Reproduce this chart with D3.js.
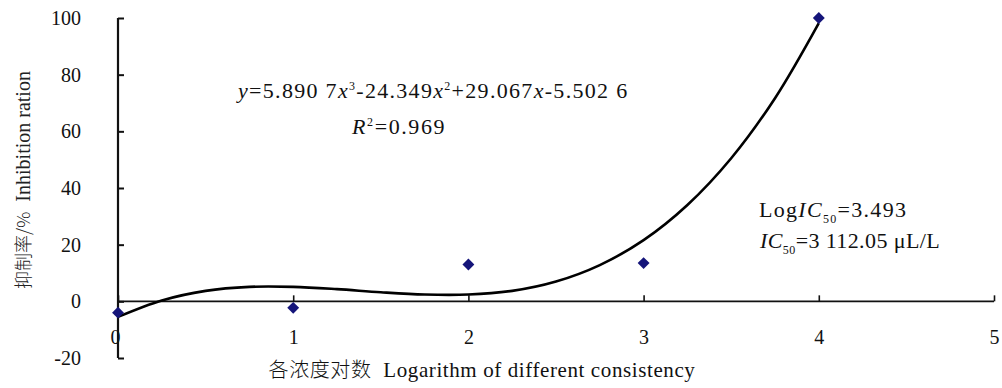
<!DOCTYPE html>
<html>
<head>
<meta charset="utf-8">
<script src="https://cdn.jsdelivr.net/npm/d3@7"></script>
<style>
  body { margin: 0; background: #fff; }
  .serif { font-family: "Liberation Serif", "DejaVu Serif", serif; }
  .cjk { font-family: "Noto Sans CJK SC", sans-serif; }
</style>
</head>
<body>
<svg id="chart" width="1002" height="388" font-family="Liberation Serif"></svg>
<script>
// measured points
const logConc = [0, 1, 2, 3, 4];
const inhibition = [-4, -2.3, 13, 13.5, 100];

// fitted trend line
const trendX = [0, 0.25, 0.5, 0.75, 1, 1.25, 1.5, 1.75, 2, 2.25, 2.5, 2.75, 3, 3.25, 3.5, 3.75, 4];
const trendY = [-5.5, 0.3, 3.7, 5.1, 5.1, 4.3, 3.2, 2.4, 2.4, 3.7, 7.0, 12.8, 21.6, 34.0, 50.5, 71.7, 98.2];

const xTicks = [0, 1, 2, 3, 4, 5];
const yTicks = [-20, 0, 20, 40, 60, 80, 100];

const svg = d3.select('#chart');

const x = d3.scaleLinear().domain([0, 5]).range([118, 994]);
const y = d3.scaleLinear().domain([-20, 100]).range([358, 18]);

// y axis, ticks pointing inward
const yAxis = svg.append('g')
  .attr('transform', 'translate(' + x(0) + ',0)')
  .call(d3.axisLeft(y).tickValues(yTicks).tickSize(-6).tickPadding(37).tickFormat(d => String(d)));
yAxis.attr('font-family', 'Liberation Serif');
yAxis.select('.domain').attr('stroke', '#111').attr('stroke-width', 2.2).attr('d', 'M0,' + y(-20) + 'V' + y(100));
yAxis.selectAll('.tick line').attr('stroke', '#111').attr('stroke-width', 2);
yAxis.selectAll('.tick text').attr('class', 'serif').attr('font-size', 20).attr('fill', '#111');

// x axis along y = 0, ticks pointing up
const xAxis = svg.append('g')
  .attr('transform', 'translate(0,' + y(0) + ')')
  .call(d3.axisBottom(x).tickValues(xTicks).tickSize(-6).tickPadding(28).tickFormat(d => String(d)));
xAxis.attr('font-family', 'Liberation Serif');
xAxis.select('.domain').attr('stroke', '#111').attr('stroke-width', 1.6).attr('d', 'M' + x(0) + ',0H' + x(5));
xAxis.selectAll('.tick line').attr('stroke', '#111').attr('stroke-width', 1.6);
xAxis.selectAll('.tick text').attr('class', 'serif').attr('font-size', 20).attr('fill', '#111');
xAxis.selectAll('.tick').filter(d => d === 0).select('text').attr('dx', -3);

// trend line
const line = d3.line()
  .x((d, i) => x(trendX[i]))
  .y(d => y(d))
  .curve(d3.curveCatmullRom);
svg.append('path')
  .datum(trendY)
  .attr('d', line)
  .attr('fill', 'none')
  .attr('stroke', '#000')
  .attr('stroke-width', 2.6);

// markers
svg.append('g').selectAll('path')
  .data(inhibition)
  .join('path')
  .attr('transform', (d, i) => 'translate(' + x(logConc[i]) + ',' + y(d) + ')')
  .attr('d', d3.symbol(d3.symbolDiamond2, 90))
  .attr('fill', '#15157a');

function txt(xp, yp, size, spacing) {
  return svg.append('text')
    .attr('class', 'serif')
    .attr('x', xp).attr('y', yp)
    .attr('font-size', size)
    .attr('letter-spacing', spacing || 0)
    .attr('fill', '#111');
}

// axis titles
const yTitle = svg.append('text')
  .attr('class', 'serif')
  .attr('transform', 'translate(30,180) rotate(-90)')
  .attr('text-anchor', 'middle')
  .attr('font-size', 20)
  .attr('fill', '#222');
yTitle.append('tspan').attr('class', 'cjk').attr('font-size', 18).attr('font-weight', 300).text('抑制率/%');
yTitle.append('tspan').text('\u00a0 Inhibition ration');

const xTitle = txt(482, 377, 21, 0.6).attr('text-anchor', 'middle');
xTitle.append('tspan').attr('class', 'cjk').attr('font-size', 20).attr('font-weight', 300).text('各浓度对数');
xTitle.append('tspan').text('\u00a0 Logarithm of different consistency');

// equation
const eq = txt(238, 98, 22, 1.3);
eq.append('tspan').attr('font-style', 'italic').text('y');
eq.append('tspan').text('=5.890 7');
eq.append('tspan').attr('font-style', 'italic').text('x');
eq.append('tspan').attr('font-size', 12).attr('dy', -8).text('3');
eq.append('tspan').attr('dy', 8).text('-24.349');
eq.append('tspan').attr('font-style', 'italic').text('x');
eq.append('tspan').attr('font-size', 12).attr('dy', -8).text('2');
eq.append('tspan').attr('dy', 8).text('+29.067');
eq.append('tspan').attr('font-style', 'italic').text('x');
eq.append('tspan').text('-5.502 6');

const r2 = txt(352, 134, 22, 1.6);
r2.append('tspan').attr('font-style', 'italic').text('R');
r2.append('tspan').attr('font-size', 12).attr('dy', -8).text('2');
r2.append('tspan').attr('dy', 8).text('=0.969');

// IC50 notes
const ic1 = txt(759, 217, 22, 1.3);
ic1.append('tspan').text('Log');
ic1.append('tspan').attr('font-style', 'italic').text('IC');
ic1.append('tspan').attr('font-size', 12).attr('dy', 6).text('50');
ic1.append('tspan').attr('dy', -6).text('=3.493');

const ic2 = txt(760, 248, 22, 0.4);
ic2.append('tspan').attr('font-style', 'italic').text('IC');
ic2.append('tspan').attr('font-size', 12).attr('dy', 6).text('50');
ic2.append('tspan').attr('dy', -6).text('=3 112.05 μL/L');
</script>
</body>
</html>
